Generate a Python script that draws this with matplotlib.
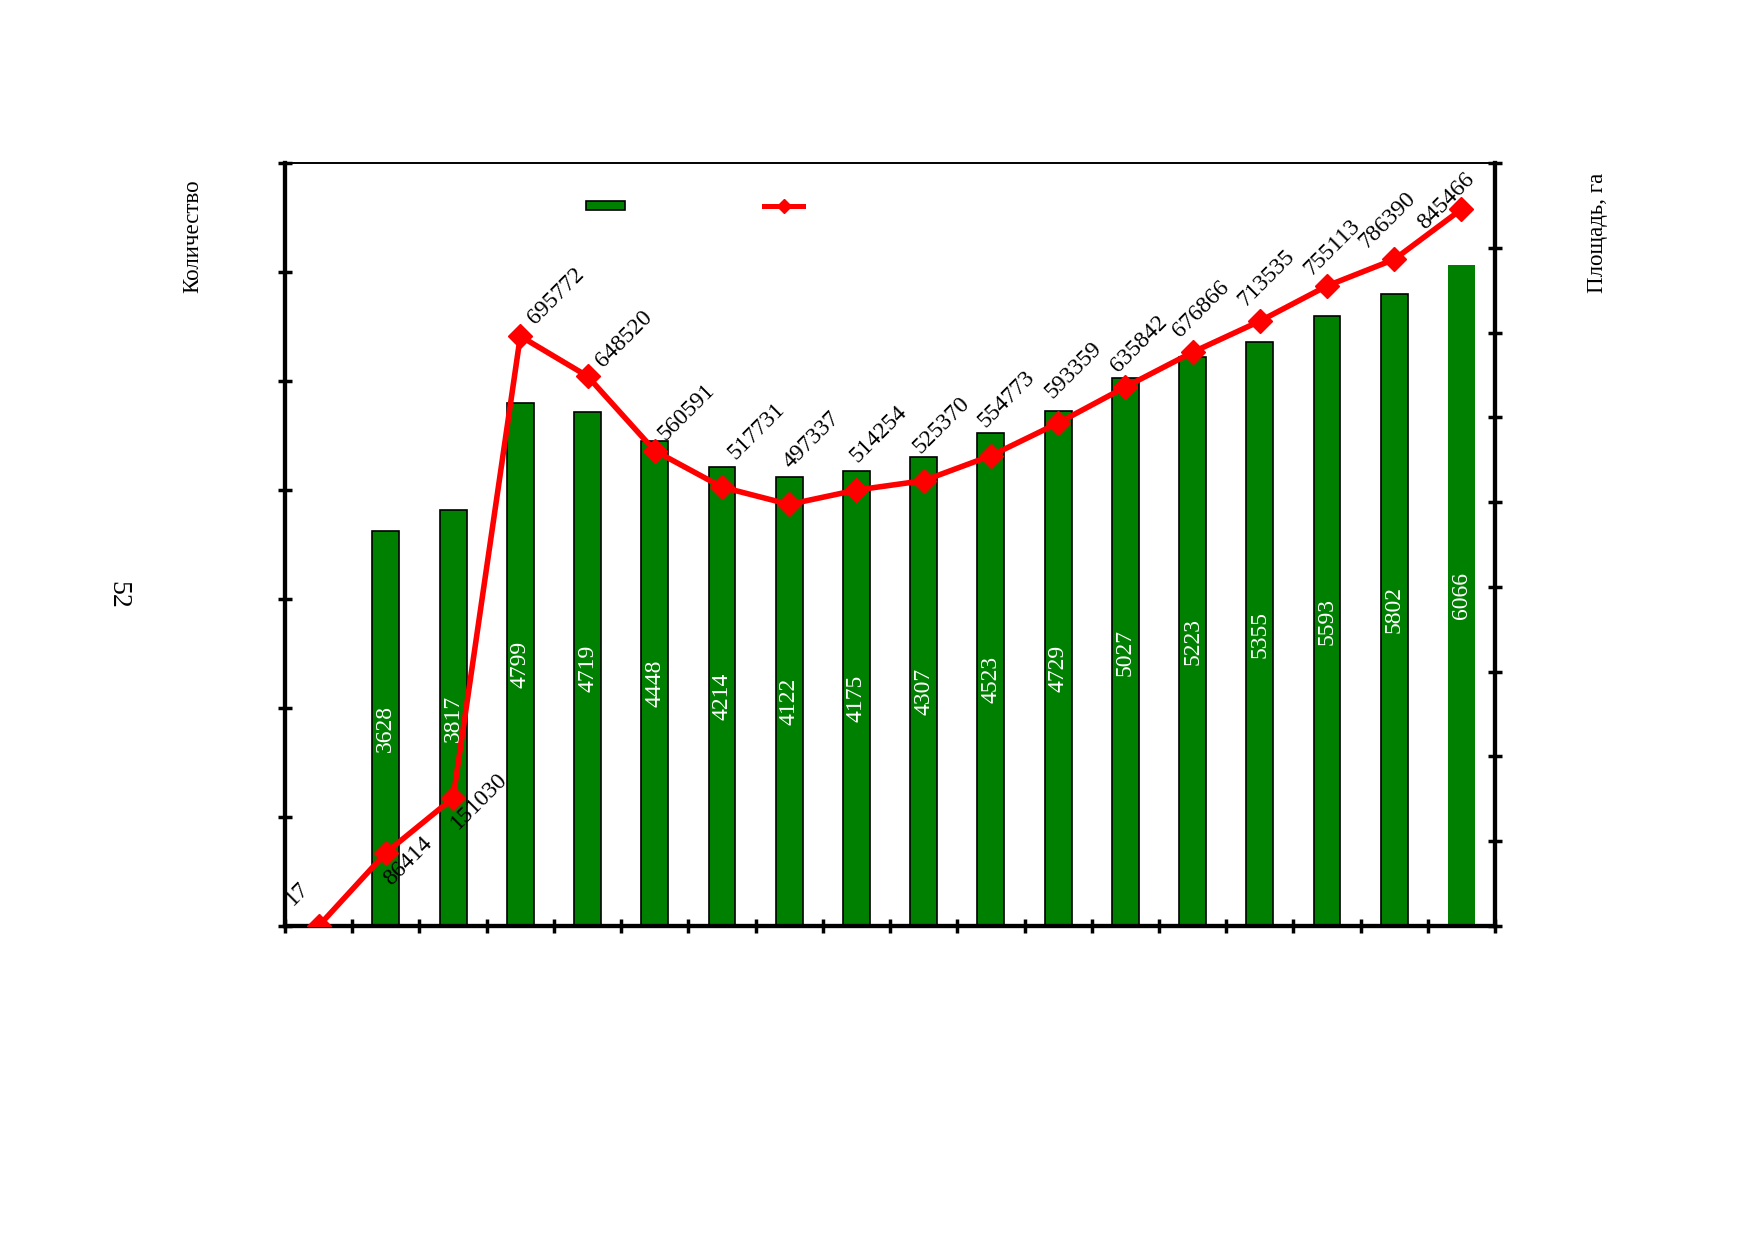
import numpy as np
import matplotlib
matplotlib.use('Agg')
import matplotlib.pyplot as plt
from matplotlib.lines import Line2D

# data (first year has no bar)
kolichestvo = [np.nan, 3628, 3817, 4799, 4719, 4448, 4214, 4122, 4175,
               4307, 4523, 4729, 5027, 5223, 5355, 5593, 5802, 6066]
ploshad = [17, 86414, 151030, 695772, 648520, 560591, 517731, 497337, 514254,
           525370, 554773, 593359, 635842, 676866, 713535, 755113, 786390, 845466]

# offsets (points) of the line labels
label_offsets = [(-15, 23), (16, -6), (19, -2), (26, 29), (26, 27), (23, 28),
                 (25, 40), (16, 46), (16, 40), (13, 40), (11, 41), (11, 38),
                 (10, 31), (6, 31), (5, 31), (4, 28), (-5, 28), (-11, 6)]

plt.rcParams['font.family'] = ['Liberation Serif', 'DejaVu Serif']

green = '#008000'
red = '#ff0000'

fig = plt.figure(figsize=(17.54, 12.39), dpi=100)
ax = fig.add_axes([0.1625, 0.2526, 0.6899, 0.6158])
ax2 = ax.twinx()

x = np.arange(len(ploshad))

edges = ['black'] * (len(x) - 1) + ['none']
ax.bar(x, kolichestvo, width=0.4, color=green, edgecolor=edges, linewidth=1.2, zorder=2)
for xi, v in zip(x, kolichestvo):
    if np.isnan(v):
        continue
    ax.text(xi, v / 2, str(int(v)), rotation=90, ha='center', va='center',
            color='white', fontsize=17, zorder=3)

ax2.plot(x, ploshad, color=red, lw=4, marker='D', ms=12, zorder=4)
for xi, v, off in zip(x, ploshad, label_offsets):
    ax2.annotate(str(v), (xi, v), xytext=off, textcoords='offset points',
                 rotation=45, ha='center', va='center', fontsize=17, color='black')

ax.set_xlim(-0.5, len(x) - 0.5)
ax.set_ylim(0, 7000)
ax2.set_ylim(0, 900000)
ax.set_xticks(np.arange(-0.5, len(x), 1))
ax.set_yticks(np.arange(0, 7001, 1000))
ax2.set_yticks(np.arange(0, 900001, 100000))
ax.set_xticklabels([])
ax.set_yticklabels([])
ax2.set_yticklabels([])

ax.tick_params(axis='both', direction='inout', length=10, width=2.5)
ax2.tick_params(axis='y', direction='inout', length=10, width=2.5)

for a in (ax, ax2):
    for s in ('left', 'right', 'bottom'):
        a.spines[s].set_linewidth(3)
    a.spines['top'].set_linewidth(1.2)

ax.set_zorder(1)
ax.patch.set_visible(False)
ax2.set_zorder(2)
ax2.patch.set_visible(False)

# legend keys without text
ax.add_patch(plt.Rectangle((0.249, 0.938), 0.032, 0.012, transform=ax.transAxes,
                           facecolor=green, edgecolor='black', lw=1.2, clip_on=False))
ax.add_line(Line2D([0.396, 0.428], [0.944, 0.944], transform=ax.transAxes,
                   color=red, lw=3.6))
ax.add_line(Line2D([0.412], [0.944], transform=ax.transAxes, color=red,
                   marker='D', ms=7, ls='none'))

fig.text(0.110, 0.809, 'Количество', rotation=90, ha='center', va='center', fontsize=16.5)
fig.text(0.911, 0.812, 'Площадь, га', rotation=90, ha='center', va='center', fontsize=16.5)
fig.text(0.067, 0.520, '52', rotation=-90, ha='center', va='center', fontsize=20)

fig.savefig('out.png', dpi=100)
